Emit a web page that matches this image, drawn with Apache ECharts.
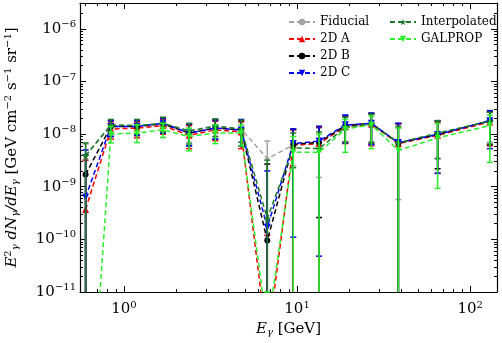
<!DOCTYPE html>
<html>
<head>
<meta charset="utf-8">
<script src="https://cdn.jsdelivr.net/npm/echarts@6/dist/echarts.min.js"></script>
<style>
  html, body { margin: 0; padding: 0; background: #fff; }
  #chart { width: 502px; height: 343px; }
</style>
</head>
<body>
<div id="chart"></div>
<script>
// energy bins [GeV]
const energies = [0.6, 0.84, 1.19, 1.68, 2.38, 3.37, 4.76, 6.73, 9.51, 13.4, 19.0, 26.9, 38.5, 64.9, 130];

// E^2 dN/dE values; 0 in a lower bound means the bar runs off the bottom
const fiducialVal = [3.8e-9, 1.45e-8, 1.45e-8, 1.6e-8, 1.15e-8, 1.45e-8, 1.25e-8, 3.4e-9, 6.2e-9, 6.5e-9, 1.45e-8, 1.55e-8, 6.8e-9, 1.0e-8, 1.75e-8];
const fiducialLo  = [0, 9e-9, 9e-9, 1e-8, 7e-9, 9e-9, 7e-9, 0, 2.5e-9, 1.5e-9, 7e-9, 7e-9, 5.7e-10, 3.5e-9, 7e-9];
const fiducialHi  = [6.5e-9, 1.8e-8, 1.8e-8, 2e-8, 1.6e-8, 1.9e-8, 1.8e-8, 7.4e-9, 1.2e-8, 1.3e-8, 2.1e-8, 2.4e-8, 1.35e-8, 1.7e-8, 2.6e-8];

const a2dVal = [3.7e-10, 1.25e-8, 1.3e-8, 1.45e-8, 9.5e-9, 1.2e-8, 1.1e-8, 1e-12, 6.2e-9, 6.6e-9, 1.4e-8, 1.55e-8, 6.6e-9, 9.5e-9, 1.7e-8];
const a2dLo  = [0, 8e-9, 8.5e-9, 1e-8, 5.3e-9, 7.5e-9, 5.3e-9, 0, 0, 0, 6.6e-9, 6e-9, 0, 1.8e-9, 6e-9];
const a2dHi  = [3.2e-9, 1.7e-8, 1.7e-8, 1.9e-8, 1.45e-8, 1.75e-8, 1.7e-8, 1.2e-10, 1.2e-8, 1.35e-8, 2.2e-8, 2.4e-8, 1.55e-8, 1.7e-8, 2.6e-8];

const b2dVal = [1.7e-9, 1.4e-8, 1.4e-8, 1.55e-8, 1.05e-8, 1.3e-8, 1.2e-8, 9.5e-11, 6.4e-9, 7.0e-9, 1.45e-8, 1.6e-8, 6.8e-9, 9.8e-9, 1.8e-8];
const b2dLo  = [0, 9e-9, 9.5e-9, 1.05e-8, 6e-9, 8e-9, 6e-9, 0, 0, 2.6e-10, 7e-9, 6.5e-9, 0, 2.2e-9, 6.3e-9];
const b2dHi  = [4e-9, 1.8e-8, 1.8e-8, 2e-8, 1.55e-8, 1.85e-8, 1.8e-8, 2.7e-9, 1.25e-8, 1.4e-8, 2.25e-8, 2.5e-8, 1.6e-8, 1.8e-8, 2.7e-8];

const c2dVal = [6.3e-10, 1.4e-8, 1.4e-8, 1.6e-8, 1.05e-8, 1.3e-8, 1.2e-8, 1.7e-10, 6.6e-9, 7.4e-9, 1.5e-8, 1.6e-8, 6.9e-9, 9.8e-9, 1.8e-8];
const c2dLo  = [0, 9e-9, 9.5e-9, 1.05e-8, 6e-9, 8e-9, 6e-9, 0, 1.1e-10, 4.8e-11, 6.8e-9, 6.3e-9, 0, 1.8e-9, 5.3e-9];
const c2dHi  = [5e-9, 1.8e-8, 1.8e-8, 2e-8, 1.55e-8, 1.85e-8, 1.9e-8, 2e-9, 1.25e-8, 1.4e-8, 2.3e-8, 2.5e-8, 1.6e-8, 1.8e-8, 2.8e-8];

const interpVal = [3.9e-9, 1.5e-8, 1.45e-8, 1.6e-8, 1.15e-8, 1.4e-8, 1.25e-8, 2.5e-10, 5.5e-9, 5.3e-9, 1.35e-8, 1.55e-8, 6.8e-9, 1.05e-8, 1.75e-8];
const interpLo  = [0, 1e-8, 1e-8, 1.1e-8, 6.5e-9, 9e-9, 7e-9, 0, 2.3e-9, 0, 7e-9, 7e-9, 0, 3.4e-9, 6.5e-9];
const interpHi  = [6.8e-9, 1.9e-8, 1.9e-8, 2.1e-8, 1.6e-8, 1.95e-8, 1.85e-8, 3.2e-9, 1.05e-8, 1.1e-8, 2.1e-8, 2.4e-8, 1.4e-8, 1.8e-8, 2.6e-8];

const galpropVal = [1e-15, 1.0e-8, 1.05e-8, 1.2e-8, 9e-9, 1.05e-8, 1.05e-8, 2e-12, 4.5e-9, 4.5e-9, 1.25e-8, 1.5e-8, 4.9e-9, 8.5e-9, 1.45e-8];
const galpropLo  = [0, 6.8e-9, 6.9e-9, 8.6e-9, 4.8e-9, 6.6e-9, 6e-9, 0, 0, 0, 4.5e-9, 5.3e-9, 0, 9.3e-10, 2.9e-9];
const galpropHi  = [2e-13, 1.4e-8, 1.5e-8, 1.6e-8, 1.3e-8, 1.5e-8, 1.5e-8, 1e-11, 9e-9, 1e-8, 1.9e-8, 2.2e-8, 1.3e-8, 1.6e-8, 2.3e-8];

const xMajor = [1, 10, 100];
const xMinor = [0.6, 0.7, 0.8, 0.9, 2, 3, 4, 5, 6, 7, 8, 9, 20, 30, 40, 50, 60, 70, 80, 90];
const yMajor = [1e-11, 1e-10, 1e-9, 1e-8, 1e-7, 1e-6];
const yMinor = [];
for (let e = -11; e <= -6; e++) {
  for (let m = 2; m <= 9; m++) {
    yMinor.push(m * Math.pow(10, e));
  }
}

const xMin = 0.557, xMax = 143;
const yMin = 1e-11, yMax = 3.1e-6;

const serif = 'DejaVu Serif';
const starPath = 'path://M50,0 L61,35 L98,35 L68,57 L79,91 L50,70 L21,91 L32,57 L2,35 L39,35 Z';

const seriesDefs = [
  {name: 'Fiducial', color: '#a3a3a3', val: fiducialVal, lo: fiducialLo, hi: fiducialHi, symbol: 'circle', size: 4, rot: 0},
  {name: '2D A', color: '#ff0000', val: a2dVal, lo: a2dLo, hi: a2dHi, symbol: 'triangle', size: 7, rot: 0},
  {name: '2D B', color: '#000000', val: b2dVal, lo: b2dLo, hi: b2dHi, symbol: 'circle', size: 6, rot: 0},
  {name: '2D C', color: '#0000ff', val: c2dVal, lo: c2dLo, hi: c2dHi, symbol: 'triangle', size: 7, rot: 180},
  {name: 'Interpolated', color: '#1d7a2a', val: interpVal, lo: interpLo, hi: interpHi, symbol: starPath, size: 8, rot: 0},
  {name: 'GALPROP', color: '#2aee2a', val: galpropVal, lo: galpropLo, hi: galpropHi, symbol: 'triangle', size: 6, rot: 180}
];

function supLabel(v) {
  const e = Math.round(Math.log10(v));
  const s = e < 0 ? '\u2212' + (-e) : '' + e;
  return '{b|10}{s|' + s + '}';
}

const tickRich = {
  b: {fontFamily: serif, fontSize: 15, color: '#000'},
  s: {fontFamily: serif, fontSize: 10, color: '#000', padding: [0, 0, 9, 0]}
};

function baseAxis(type, pos, values, len, showLine, extra) {
  const ax = {
    type: 'log',
    logBase: 10,
    position: pos,
    min: type === 'x' ? xMin : yMin,
    max: type === 'x' ? xMax : yMax,
    axisLine: {show: showLine, onZero: false, lineStyle: {color: '#000', width: 1.2}},
    axisTick: {show: true, inside: true, length: len, customValues: values, lineStyle: {color: '#000', width: 1}},
    axisLabel: {show: false},
    splitLine: {show: false},
    minorTick: {show: false}
  };
  return Object.assign(ax, extra || {});
}

const chart = echarts.init(document.getElementById('chart'));

const series = [];
seriesDefs.forEach(function (d, i) {
  series.push({
    name: d.name,
    type: 'line',
    data: energies.map(function (e, k) { return [e, d.val[k]]; }),
    symbol: d.symbol,
    symbolSize: d.size,
    symbolRotate: d.rot,
    showSymbol: true,
    clip: true,
    z: 3 + i,
    itemStyle: {color: d.color},
    lineStyle: {color: d.color, width: 1.5, type: [5, 3]},
    emphasis: {disabled: true},
    animation: false
  });
  series.push({
    name: d.name + ' err',
    type: 'custom',
    z: 3 + i,
    data: energies.map(function (e, k) { return [e, d.lo[k], d.hi[k]]; }),
    encode: {x: 0, y: 2},
    renderItem: function (params, api) {
      const cs = params.coordSys;
      const top = cs.y, bottom = cs.y + cs.height;
      const e = api.value(0), lo = api.value(1), hi = api.value(2);
      const x = api.coord([e, hi])[0];
      let yHi = api.coord([e, hi])[1];
      let yLo = lo > 0 ? api.coord([e, lo])[1] : bottom + 5;
      const children = [];
      const style = {stroke: d.color, lineWidth: 1.5};
      const y1 = Math.max(top, Math.min(bottom, yHi));
      const y2 = Math.max(top, Math.min(bottom, yLo));
      if (y2 > y1) {
        children.push({type: 'line', shape: {x1: x, y1: y1, x2: x, y2: y2}, style: style});
      }
      [yHi, yLo].forEach(function (yy) {
        if (yy >= top && yy <= bottom) {
          children.push({type: 'line', shape: {x1: x - 3, y1: yy, x2: x + 3, y2: yy}, style: style});
        }
      });
      return {type: 'group', children: children};
    },
    animation: false,
    silent: true
  });
});

chart.setOption({
  animation: false,
  textStyle: {fontFamily: serif},
  grid: {left: 80, right: 5, top: 3, bottom: 51, containLabel: false, outerBoundsMode: 'none'},
  legend: [
    {
      orient: 'vertical',
      left: 283,
      top: 11,
      itemWidth: 26,
      itemHeight: 8,
      itemGap: 5,
      textStyle: {fontFamily: serif, fontSize: 12, color: '#000'},
      data: ['Fiducial', '2D A', '2D B', '2D C']
    },
    {
      orient: 'vertical',
      left: 384,
      top: 11,
      itemWidth: 26,
      itemHeight: 8,
      itemGap: 5,
      textStyle: {fontFamily: serif, fontSize: 12, color: '#000'},
      data: ['Interpolated', 'GALPROP']
    }
  ],
  xAxis: [
    baseAxis('x', 'bottom', xMajor, 6, true, {
      axisLabel: {show: true, customValues: xMajor, margin: 8, formatter: supLabel, rich: tickRich},
      name: '{i|E}{sb|\u03b3} [GeV]',
      nameLocation: 'middle',
      nameGap: 27,
      nameTextStyle: {
        rich: {
          i: {fontFamily: serif, fontStyle: 'italic', fontSize: 15, color: '#000'},
          sb: {fontFamily: serif, fontStyle: 'italic', fontSize: 10, color: '#000', padding: [6, 0, 0, 0]}
        },
        fontFamily: serif, fontSize: 15, color: '#000'
      }
    }),
    baseAxis('x', 'bottom', xMinor, 3, false),
    baseAxis('x', 'top', xMajor, 6, true),
    baseAxis('x', 'top', xMinor, 3, false)
  ],
  yAxis: [
    baseAxis('y', 'left', yMajor, 6, true, {
      axisLabel: {show: true, customValues: yMajor, margin: 4, formatter: supLabel, rich: tickRich},
      name: '{i|E}{sp|2}{sb|\u03b3} {i|dN}{sb|\u03b3}{i|/dE}{sb|\u03b3} [GeV cm{sp|\u22122} s{sp|\u22121} sr{sp|\u22121}]',
      nameLocation: 'middle',
      nameGap: 58,
      nameRotate: 90,
      nameTextStyle: {
        rich: {
          i: {fontFamily: serif, fontStyle: 'italic', fontSize: 15, color: '#000'},
          sp: {fontFamily: serif, fontSize: 10, color: '#000', padding: [0, 0, 9, 0]},
          sb: {fontFamily: serif, fontStyle: 'italic', fontSize: 10, color: '#000', padding: [6, 0, 0, 0]}
        },
        fontFamily: serif, fontSize: 15, color: '#000'
      }
    }),
    baseAxis('y', 'left', yMinor, 3, false),
    baseAxis('y', 'right', yMajor, 6, true),
    baseAxis('y', 'right', yMinor, 3, false)
  ],
  series: series
});
</script>
</body>
</html>
